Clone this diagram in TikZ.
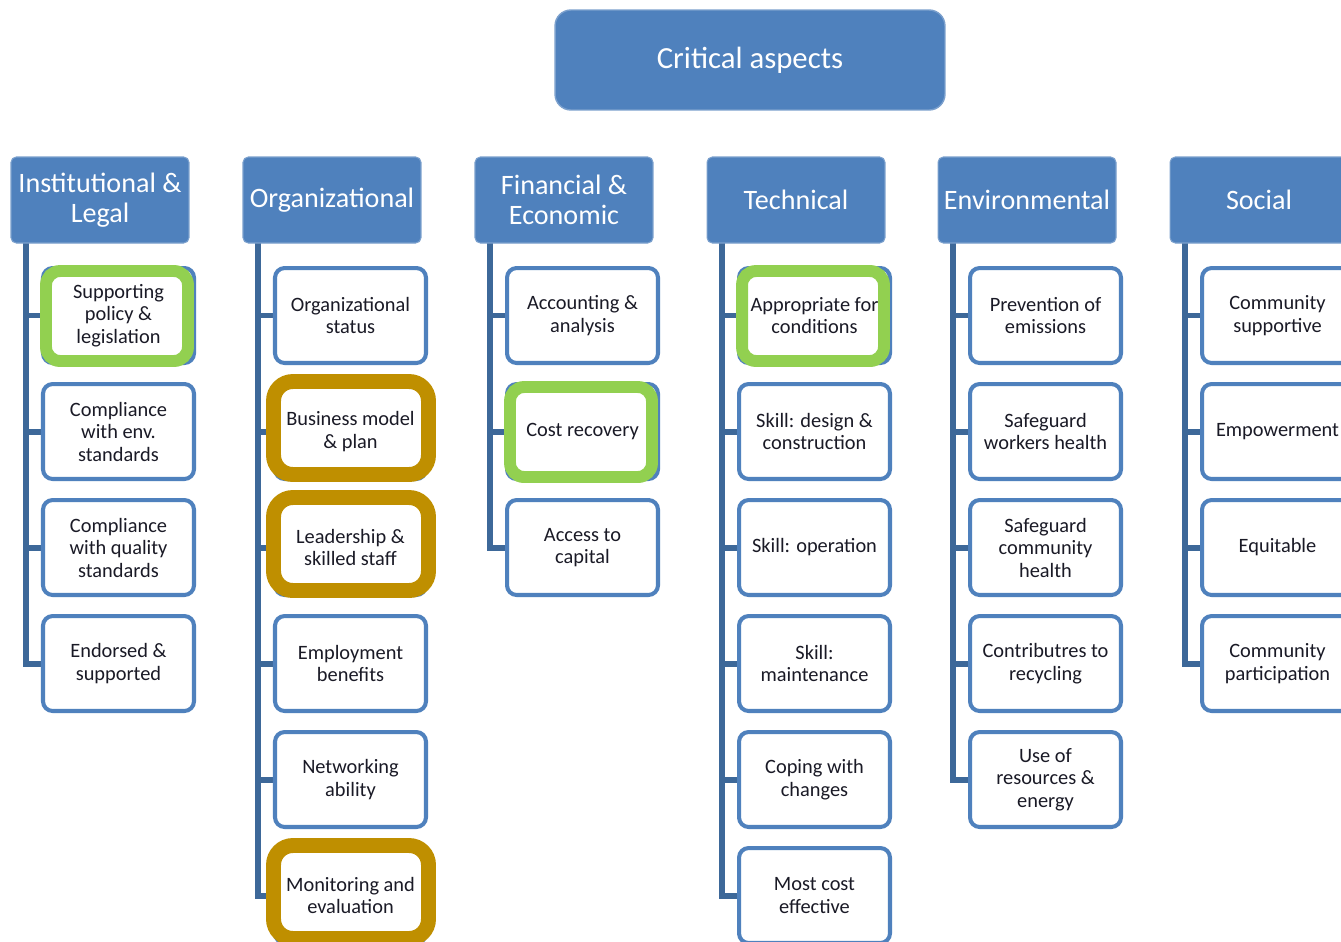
\documentclass[tikz,border=0pt]{standalone}
\usepackage{fontspec}
\setmainfont{Carlito}
\usetikzlibrary{backgrounds}

\definecolor{hdrblue}{HTML}{4F81BD}
\definecolor{linkblue}{HTML}{3D6899}
\definecolor{okgreen}{HTML}{92D050}
\definecolor{flaggold}{HTML}{BF8F00}
\definecolor{itemtext}{HTML}{1A1A26}

\tikzset{
  rootbox/.style={rectangle, rounded corners=9pt, fill=hdrblue, draw=hdrblue!75!white,
    line width=0.8pt, minimum width=7.8cm, minimum height=2cm, text=white,
    font=\fontsize{17.5}{19}\selectfont, inner sep=0pt, outer sep=0pt},
  headbox/.style={rectangle, rounded corners=3pt, fill=hdrblue, draw=hdrblue!75!white,
    line width=0.6pt, minimum width=3.56cm, minimum height=1.72cm, text=white,
    align=center, font=\fontsize{16}{17}\selectfont, inner sep=0pt, outer sep=0pt},
  itembox/.style={rectangle, rounded corners=5.5pt, fill=white, draw=hdrblue,
    line width=2.3pt, minimum width=3.02cm, minimum height=1.9cm, text=itemtext,
    align=center, font=\fontsize{11.6}{12.8}\selectfont, inner sep=0pt, outer sep=0pt},
  conn/.style={draw=linkblue, line width=3.4pt, line join=miter},
  greenframe/.style={draw=okgreen, line width=6.8pt, rounded corners=8pt},
  goldframe/.style={draw=flaggold, line width=8.5pt, rounded corners=11pt},
}

\begin{document}
\begin{tikzpicture}[x=0.02cm, y=-0.02cm]
\useasboundingbox (0,0) rectangle (1341,941);
\clip (0,0) rectangle (1341,941);

% top box
\node[rootbox] (root) at (750,60) {Critical aspects};

% column headers
\node[headbox] (h1) at (100,200)  {Institutional \&\\Legal};
\node[headbox] (h2) at (332,200)  {Organizational};
\node[headbox] (h3) at (564,200)  {Financial \&\\Economic};
\node[headbox] (h4) at (796,200)  {Technical};
\node[headbox] (h5) at (1027,200) {Environmental};
\node[headbox] (h6) at (1259,200) {Social};

% items of each column
\foreach \t [count=\j] in {{Supporting\\policy \&\\legislation},{Compliance\\with env.\\standards},
    {Compliance\\with quality\\standards},{Endorsed \&\\supported}}
  \node[itembox] (c1-\j) at (118.5,{315.5+116*(\j-1)}) {\t};
\foreach \t [count=\j] in {{Organizational\\status},{Business model\\\& plan},{Leadership \&\\skilled staff},
    {Employment\\benefits},{Networking\\ability},{Monitoring and\\evaluation}}
  \node[itembox] (c2-\j) at (350.5,{315.5+116*(\j-1)}) {\t};
\foreach \t [count=\j] in {{Accounting \&\\analysis},{Cost recovery},{Access to\\capital}}
  \node[itembox] (c3-\j) at (582.5,{315.5+116*(\j-1)}) {\t};
\foreach \t [count=\j] in {{Appropriate for\\conditions},{Skill: design \&\\construction},{Skill: operation},
    {Skill:\\maintenance},{Coping with\\changes},{Most cost\\effective}}
  \node[itembox] (c4-\j) at (814.5,{315.5+116*(\j-1)}) {\t};
\foreach \t [count=\j] in {{Prevention of\\emissions},{Safeguard\\workers health},{Safeguard\\community\\health},
    {Contributres to\\recycling},{Use of\\resources \&\\energy}}
  \node[itembox] (c5-\j) at (1045.5,{315.5+116*(\j-1)}) {\t};
\foreach \t [count=\j] in {{Community\\supportive},{Empowerment},{Equitable},{Community\\participation}}
  \node[itembox] (c6-\j) at (1277.5,{315.5+116*(\j-1)}) {\t};

% white page and tree connectors behind the boxes
\begin{scope}[on background layer]
\clip (0,0) rectangle (1341,941);
\fill[white] (0,0) rectangle (1341,941);
\foreach \c/\n in {1/4,2/6,3/3,4/6,5/5,6/4} {
  \coordinate (s\c) at ([xshift=0.3cm]h\c.south west);
  \draw[conn] (s\c) |- (c\c-\n.west);
  \foreach \j in {1,...,\n}
    \draw[conn] (s\c |- c\c-\j.west) -- (c\c-\j.west);
}
\end{scope}

% highlighted items
\foreach \b in {c1-1,c3-2,c4-1}
  \draw[greenframe] ([xshift=0.06cm,yshift=-0.06cm]\b.north west)
    rectangle ([xshift=-0.12cm,yshift=0.04cm]\b.south east);
\foreach \b in {c2-2,c2-3,c2-6}
  \draw[goldframe] ([xshift=-0.03cm,yshift=0.05cm]\b.north west)
    rectangle ([xshift=0.05cm,yshift=0.09cm]\b.south east);
\end{tikzpicture}
\end{document}
